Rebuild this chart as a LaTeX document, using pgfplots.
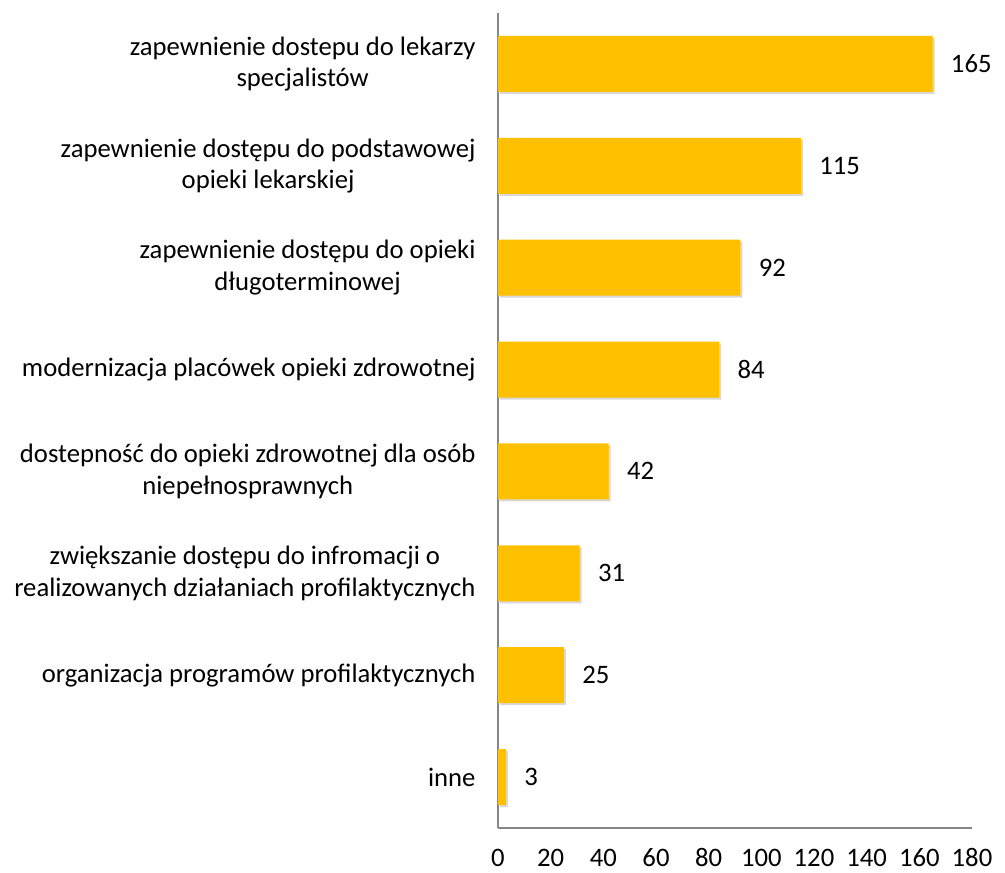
\documentclass[border=0pt]{standalone}
\usepackage{pgfplots}
\pgfplotsset{compat=1.18}
\usepackage{fontspec}
\setmainfont{Carlito}
\usetikzlibrary{shadows}
\definecolor{bargold}{HTML}{FFC000}
\definecolor{axgray}{HTML}{868686}
\begin{document}
\fontsize{20}{23.5}\selectfont
\begin{tikzpicture}
\useasboundingbox (-373.5pt,-33.75pt) rectangle (380.25pt,621pt);
\begin{axis}[
  at={(0,0)}, anchor=south west,
  scale only axis,
  width=355.5pt, height=611.25pt,
  xbar, bar width=42pt,
  xmin=0, xmax=180,
  ymin=-0.5, ymax=7.5,
  xtick={0,20,...,180},
  ytick={0,...,7},
  yticklabels={inne, organizacja programów profilaktycznych, {zwiększanie dostępu do infromacji o\\realizowanych działaniach profilaktycznych}, {dostepność do opieki zdrowotnej dla osób\\niepełnosprawnych}, modernizacja placówek opieki zdrowotnej, {zapewnienie dostępu do opieki\\długoterminowej}, {zapewnienie dostępu do podstawowej\\opieki lekarskiej}, {zapewnienie dostepu do lekarzy\\specjalistów}},
  yticklabel style={align=center, font=\fontsize{20}{23.5}\selectfont, xshift=-10pt},
  xticklabel style={font=\fontsize{20}{23.5}\selectfont, anchor=north, inner sep=0pt, text height=12.8pt, text depth=0pt, yshift=-16pt},
  /pgf/number format/assume math mode=true,
  major tick length=0pt,
  axis x line*=bottom, axis y line*=left,
  axis line style={axgray, line width=0.9pt, -},
  x axis line style={-}, y axis line style={-},
  nodes near coords,
  nodes near coords style={font=\fontsize{20}{23.5}\selectfont, anchor=west, xshift=7pt, text=black, text height=12.8pt, text depth=0pt},
  clip=false,
]
\addplot[fill=bargold, draw=none, drop shadow={shadow xshift=1.5pt, shadow yshift=-1.5pt, fill=black!30}] coordinates {
(3,0) (25,1) (31,2) (42,3) (84,4) (92,5) (115,6) (165,7)};
\end{axis}
\end{tikzpicture}
\end{document}
